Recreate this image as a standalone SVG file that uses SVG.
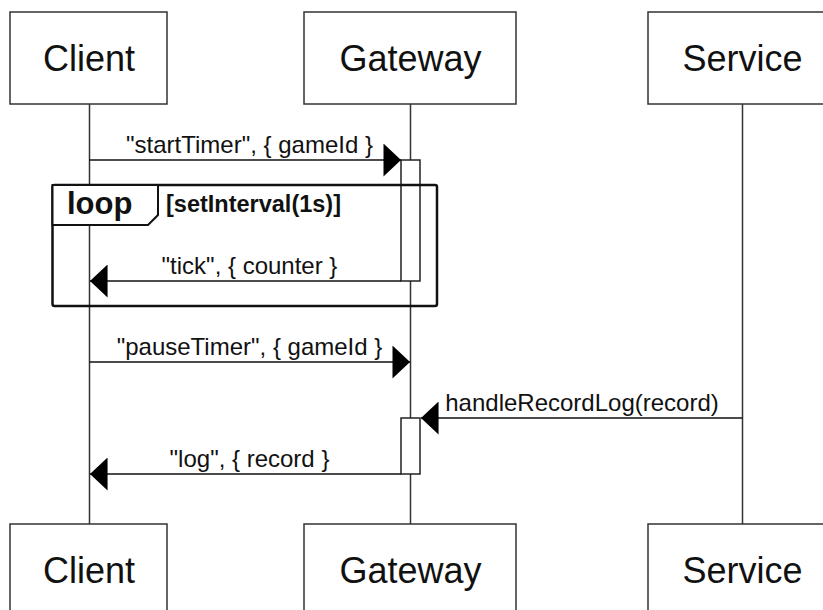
<svg xmlns="http://www.w3.org/2000/svg" width="823" height="610" viewBox="0 0 823 610">
<defs>
<marker id="ah" markerUnits="userSpaceOnUse" markerWidth="18" markerHeight="33" viewBox="0 0 17 32" refX="17" refY="16" orient="auto">
<path d="M0,0 L17,16 L0,32 Z" fill="#000"/>
</marker>
<style>
.box{fill:#fff;stroke:#333;stroke-width:1.5}
.title{font-family:"Liberation Sans",Arial,sans-serif;font-size:36px;text-anchor:middle;fill:#111}
.life{stroke:#333;stroke-width:1.5}
.msg{stroke:#111;stroke-width:1.5;fill:none;marker-end:url(#ah)}
.lbl{font-family:"Liberation Sans",Arial,sans-serif;font-size:24px;text-anchor:middle;fill:#111}
.act{fill:#fff;stroke:#222;stroke-width:1.5}
.frame{fill:none;stroke:#111;stroke-width:2.5}
.tab{fill:#fff;stroke:#111;stroke-width:2}
.bold{font-family:"Liberation Sans",Arial,sans-serif;font-weight:bold;fill:#111}
</style>
</defs>
<rect width="823" height="610" fill="#fff"/>
<g id="lifelines">
<line class="life" x1="89.5" y1="104" x2="89.5" y2="524"/>
<line class="life" x1="410.5" y1="104" x2="410.5" y2="524"/>
<line class="life" x1="742.5" y1="104" x2="742.5" y2="524"/>
</g>
<g id="client-top"><rect class="box" x="10" y="12" width="157" height="92"/><text class="title" x="89" y="71">Client</text></g>
<g id="gateway-top"><rect class="box" x="304" y="12" width="212" height="92"/><text class="title" x="410.5" y="71">Gateway</text></g>
<g id="service-top"><rect class="box" x="648" y="12" width="188" height="92"/><text class="title" x="742.5" y="71">Service</text></g>
<g id="client-bottom"><rect class="box" x="10" y="524" width="157" height="92"/><text class="title" x="89" y="583">Client</text></g>
<g id="gateway-bottom"><rect class="box" x="304" y="524" width="212" height="92"/><text class="title" x="410.5" y="583">Gateway</text></g>
<g id="service-bottom"><rect class="box" x="648" y="524" width="188" height="92"/><text class="title" x="742.5" y="583">Service</text></g>
<g id="activations">
<rect id="act1" class="act" x="401" y="160" width="19" height="121"/>
<rect id="act2" class="act" x="401" y="418" width="19" height="56"/>
</g>
<g id="connectors">
<line class="msg" x1="89.5" y1="160" x2="401" y2="160"/>
<text class="lbl" x="249.5" y="153">"startTimer", { gameId }</text>
<line class="msg" x1="401" y1="281" x2="90" y2="281"/>
<text class="lbl" x="249.5" y="274">"tick", { counter }</text>
<line class="msg" x1="89.5" y1="362" x2="410" y2="362"/>
<text class="lbl" x="249.5" y="355">"pauseTimer", { gameId }</text>
<line class="msg" x1="742.5" y1="418" x2="421" y2="418"/>
<text class="lbl" x="582" y="411">handleRecordLog(record)</text>
<line class="msg" x1="401" y1="474" x2="90" y2="474"/>
<text class="lbl" x="249.5" y="467">"log", { record }</text>
</g>
<g id="loop">
<rect class="frame" x="52.5" y="185" width="384.5" height="121" rx="2"/>
<path class="tab" d="M52.5,185 H158 V215 L148,225 H52.5 Z"/>
<text class="bold" x="67" y="214" font-size="31">loop</text>
<text class="bold" x="166" y="212" font-size="23.5">[setInterval(1s)]</text>
</g>
</svg>
